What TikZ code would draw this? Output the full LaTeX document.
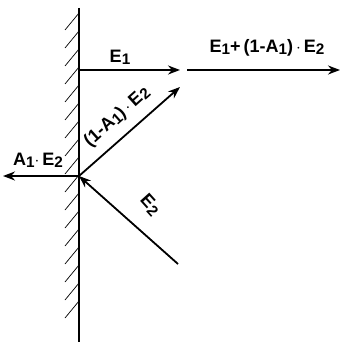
\documentclass[tikz,border=0pt]{standalone}
\usepackage{fontspec}
\setmainfont{Liberation Sans}
\usetikzlibrary{arrows.meta}
\newcommand{\sbs}[1]{\raisebox{-0.12em}{\scalebox{0.85}{#1}}}
\begin{document}
\begin{tikzpicture}[x=1pt,y=-1pt,
  ray/.style={line width=1.8pt,-{Stealth[length=12pt,width=9pt]}},
  lbl/.style={font=\fontsize{18}{20}\selectfont\bfseries, inner sep=1pt},
  hatchline/.style={line width=0.7pt}]
\useasboundingbox (0,0) rectangle (340,342);
% wall
\coordinate (wt) at (79,8);
\coordinate (wb) at (79,342);
\draw[line width=1.5pt] (wt) -- (wb);
\foreach \y in {30,48,...,330}{
  \draw[hatchline] (79,\y-17) -- (65,\y);
}
% points
\coordinate (p) at (79,176);
\coordinate (e1s) at (79,70);
\coordinate (e1e) at (180,70);
\coordinate (ts) at (187,70);
\coordinate (te) at (340,70);
\coordinate (rs) at (79,176);
\coordinate (re) at (180,87);
\coordinate (is) at (178,264);
\coordinate (ae) at (3,176);
\draw[ray] (e1s) -- (e1e);
\draw[ray] (ts) -- (te);
\draw[ray] (rs) -- (re);
\draw[ray] (is) -- (p);
\draw[ray] (p) -- (ae);
% labels
\node[lbl] (l1) at (120,57) {E\sbs{1}};
\node[lbl] (l2) at (267,48) {E\sbs{1}+\,(1-A\sbs{1})\,$\cdot$\,E\sbs{2}};
\node[lbl,rotate=42] (l3) at (117,117) {(1-A\sbs{1})\,$\cdot$\,E\sbs{2}};
\node[lbl] (l4) at (38,160) {A\sbs{1}$\cdot$\,E\sbs{2}};
\node[lbl,rotate=-48] (l5) at (150,205) {E\sbs{2}};
\end{tikzpicture}
\end{document}
